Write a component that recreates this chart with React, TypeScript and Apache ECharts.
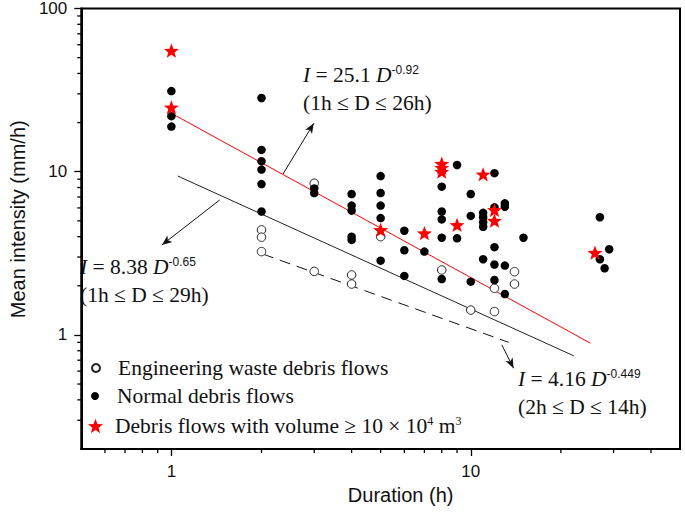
import React, { useEffect, useRef } from 'react';
import * as echarts from 'echarts';

// ---------- data ----------
const engDuration = [2, 2, 2, 3, 3, 4, 4, 5, 8, 10, 12, 12, 14, 14];
const engIntensity = [4.4, 3.97, 3.24, 8.5, 2.45, 2.33, 2.05, 4.0, 2.5, 1.42, 1.93, 1.39, 2.44, 2.05];

const normalDuration = [
  1, 1, 1,
  2, 2, 2, 2, 2, 2,
  3, 3,
  4, 4, 4, 4, 4,
  5, 5, 5, 5, 5,
  6, 6, 6,
  7,
  8, 8, 8, 8, 8,
  9, 9,
  10, 10, 10,
  11, 11, 11, 11, 11,
  12, 12, 12, 12, 12,
  13, 13, 13, 13,
  15,
  27, 27, 28, 29,
];
const normalIntensity = [
  31.2, 21.9, 18.9,
  28.3, 13.6, 11.6, 10.3, 8.4, 5.7,
  7.9, 7.4,
  7.3, 6.2, 5.77, 4.0, 3.82,
  9.4, 7.4, 6.2, 5.2, 2.85,
  4.35, 3.3, 2.3,
  3.24,
  8.1, 5.7, 5.1, 3.94, 2.2,
  11.0, 3.91,
  7.3, 5.36, 2.12,
  5.6, 5.25, 4.9, 4.6, 2.91,
  9.8, 6.05, 3.45, 2.7, 2.17,
  6.4, 6.1, 2.66, 1.78,
  3.94,
  5.26, 2.91, 2.56, 3.35,
];

const largeDuration = [1, 1, 5, 7, 8, 8, 8, 9, 11, 12, 12, 26];
const largeIntensity = [55.2, 24.8, 4.4, 4.2, 11.2, 10.6, 10.0, 4.72, 9.64, 5.83, 5.01, 3.19];

// fitted lines (end points as drawn)
const fitRedD = [1, 25.1];
const fitRedI = [22.8, 0.89];
const fitBlackD = [1.05, 22.1];
const fitBlackI = [9.41, 0.744];
const fitDashD = [2.02, 13.4];
const fitDashI = [3.13, 0.9];

// annotation arrows (start on line -> end near label)
const arrowStartD = [2.36, 1.45, 12.7];
const arrowStartI = [9.68, 6.71, 0.869];
const arrowEndD = [2.99, 0.93, 13.9];
const arrowEndI = [19.8, 3.56, 0.625];

// axes
const X_MIN = 0.5;
const X_MAX = 50;
const Y_MIN = 0.2;
const Y_MAX = 100;
const xMinorTicks = [0.6, 0.7, 0.8, 0.9, 2, 3, 4, 5, 6, 7, 8, 9, 20, 30, 40];
const yMinorTicks = [0.3, 0.4, 0.5, 0.6, 0.7, 0.8, 0.9, 2, 3, 4, 5, 6, 7, 8, 9, 20, 30, 40, 50, 60, 70, 80, 90];

const SER_ENG = 'Engineering waste debris flows';
const SER_NORM = 'Normal debris flows';
const SER_LARGE = 'Debris flows with volume ≥ 10 × 10⁴ m³';

const equations = [
  { coef: '25.1', exp: '-0.92', range: '(1h ≤ D ≤ 26h)' },
  { coef: '8.38', exp: '-0.65', range: '(1h ≤ D ≤ 29h)' },
  { coef: '4.16', exp: '-0.449', range: '(2h ≤ D ≤ 14h)' },
];

// ---------- option ----------
const STAR =
  'path://M50 0 L62.34 33.01 L97.55 34.55 L69.97 56.49 L79.39 90.45 L50 71 L20.61 90.45 L30.03 56.49 L2.45 34.55 L37.66 33.01 Z';
const SANS = "'Liberation Sans', Arial, sans-serif";
const SERIF = "'Liberation Serif', 'Times New Roman', serif";
const TXT = '#111';
const FS = 21.5;

function zip(a: number[], b: number[]) {
  return a.map((v, i) => [v, b[i]]);
}

function buildOption() {
  const textRich = {
    i: { fontFamily: SERIF, fontSize: FS, fontStyle: 'italic', fill: TXT, color: TXT },
    n: { fontFamily: SERIF, fontSize: FS, fill: TXT, color: TXT },
    sup: { fontFamily: SANS, fontSize: 12, verticalAlign: 'top', lineHeight: 12, fill: TXT, color: TXT },
  };
  const eqPos = [
    { x: 303, y: 75 },
    { x: 80, y: 267 },
    { x: 518, y: 379 },
  ];
  const graphic: any[] = [];
  equations.forEach((eq, k) => {
    graphic.push({
      type: 'text',
      x: eqPos[k].x,
      y: eqPos[k].y,
      silent: true,
      style: {
        text: `{i|I}{n| = ${eq.coef} }{i|D}{sup|${eq.exp}}`,
        rich: textRich,
        fontFamily: SERIF,
        fontSize: FS,
        fill: TXT,
        verticalAlign: 'middle',
        align: 'left',
      },
    });
    graphic.push({
      type: 'text',
      x: eqPos[k].x,
      y: eqPos[k].y + 28,
      silent: true,
      style: {
        text: eq.range,
        fontFamily: SERIF,
        fontSize: FS,
        fill: TXT,
        verticalAlign: 'middle',
        align: 'left',
      },
    });
  });

  const arrowData = arrowStartD.map((d, i) => [
    { coord: [d, arrowStartI[i]] },
    { coord: [arrowEndD[i], arrowEndI[i]] },
  ]);

  const legendText = (padLeft: number) => ({
    fontFamily: SERIF,
    fontSize: FS,
    color: TXT,
    lineHeight: 22,
    padding: [0, 0, 0, padLeft],
    rich: {
      sup: { fontFamily: SERIF, fontSize: 12, verticalAlign: 'top', lineHeight: 12, color: TXT },
      n: { fontFamily: SERIF, fontSize: FS, color: TXT, lineHeight: 22 },
    },
  });
  const legendBase = {
    orient: 'vertical',
    padding: 0,
    selectedMode: false,
    symbolKeepAspect: true,
  };

  const tickSeries = (vals: number[], horizontal: boolean) => ({
    type: 'custom',
    silent: true,
    clip: false,
    z: 5,
    data: vals.map((v) => (horizontal ? [v, Y_MIN] : [X_MIN, v])),
    renderItem: (_p: any, api: any) => {
      const pt = api.coord([api.value(0), api.value(1)]);
      return {
        type: 'line',
        shape: horizontal
          ? { x1: pt[0], y1: pt[1], x2: pt[0], y2: pt[1] + 4 }
          : { x1: pt[0], y1: pt[1], x2: pt[0] - 4, y2: pt[1] },
        style: { stroke: '#000', lineWidth: 1.3 },
      };
    },
  });

  return {
    animation: false,
    backgroundColor: '#fff',
    grid: {
      left: 70,
      top: 8,
      right: 5,
      bottom: 64,
      show: true,
      borderColor: '#000',
      borderWidth: 2,
      backgroundColor: 'transparent',
    },
    xAxis: {
      type: 'log',
      logBase: 10,
      min: X_MIN,
      max: X_MAX,
      name: 'Duration (h)',
      nameLocation: 'middle',
      nameGap: 36,
      nameTextStyle: { fontFamily: SANS, fontSize: 20, color: TXT, padding: [0, 0, 0, 40] },
      axisLine: { show: true, lineStyle: { color: '#000', width: 2 } },
      axisTick: { show: true, length: 7, lineStyle: { color: '#000', width: 1.3 } },
      axisLabel: {
        fontFamily: SANS,
        fontSize: 17,
        color: TXT,
        margin: 14,
        showMinLabel: false,
        showMaxLabel: false,
      },
      splitLine: { show: false },
      minorTick: { show: false },
    },
    yAxis: {
      type: 'log',
      logBase: 10,
      min: Y_MIN,
      max: Y_MAX,
      name: 'Mean intensity (mm/h)',
      nameLocation: 'middle',
      nameGap: 48,
      nameTextStyle: { fontFamily: SANS, fontSize: 20, color: TXT, padding: [0, 0, 0, 19] },
      axisLine: { show: true, lineStyle: { color: '#000', width: 2 } },
      axisTick: { show: true, length: 7, lineStyle: { color: '#000', width: 1.3 } },
      axisLabel: {
        fontFamily: SANS,
        fontSize: 17,
        color: TXT,
        margin: 14,
        showMinLabel: false,
        showMaxLabel: true,
      },
      splitLine: { show: false },
    },
    legend: [
      { ...legendBase, data: [SER_ENG], left: 91, top: 357, itemWidth: 8, itemHeight: 8, textStyle: legendText(13) },
      { ...legendBase, data: [SER_NORM], left: 91, top: 385, itemWidth: 8, itemHeight: 8, textStyle: legendText(13) },
      {
        ...legendBase,
        data: [SER_LARGE],
        left: 88,
        top: 415,
        itemWidth: 15,
        itemHeight: 15,
        textStyle: legendText(7),
        formatter: () => '{n|Debris flows with volume ≥ 10 × 10}{sup|4}{n| m}{sup|3}',
      },
    ],
    graphic,
    series: [
      {
        name: 'fit-dashed',
        type: 'line',
        data: zip(fitDashD, fitDashI),
        symbol: 'none',
        silent: true,
        lineStyle: { color: '#111', width: 1, type: [11, 7] },
        z: 1,
      },
      {
        name: 'fit-black',
        type: 'line',
        data: zip(fitBlackD, fitBlackI),
        symbol: 'none',
        silent: true,
        lineStyle: { color: '#222', width: 1 },
        z: 1,
      },
      {
        name: 'fit-red',
        type: 'line',
        data: zip(fitRedD, fitRedI),
        symbol: 'none',
        silent: true,
        lineStyle: { color: '#ff0000', width: 1 },
        z: 1,
        markLine: {
          silent: true,
          symbol: ['none', 'arrow'],
          symbolSize: [6, 10],
          label: { show: false },
          lineStyle: { color: '#111', width: 1, type: 'solid' },
          emphasis: { disabled: true },
          data: arrowData,
        },
      },
      {
        name: SER_ENG,
        type: 'scatter',
        data: zip(engDuration, engIntensity),
        symbol: 'circle',
        symbolSize: 8.5,
        itemStyle: { color: '#fff', borderColor: '#222', borderWidth: 1, opacity: 1 },
        z: 3,
      },
      {
        name: SER_NORM,
        type: 'scatter',
        data: zip(normalDuration, normalIntensity),
        symbol: 'circle',
        symbolSize: 8.5,
        itemStyle: { color: '#000', opacity: 1 },
        z: 4,
      },
      {
        name: SER_LARGE,
        type: 'scatter',
        data: zip(largeDuration, largeIntensity),
        symbol: STAR,
        symbolKeepAspect: true,
        symbolSize: 15,
        itemStyle: { color: '#ff0000', opacity: 1 },
        z: 5,
      },
      tickSeries(xMinorTicks, true),
      tickSeries(yMinorTicks, false),
    ],
  };
}

export default function App() {
  const ref = useRef<HTMLDivElement>(null);
  useEffect(() => {
    if (!ref.current) return;
    const chart = echarts.init(ref.current, null, { renderer: 'svg' });
    chart.setOption(buildOption() as any);
    return () => chart.dispose();
  }, []);
  return (
    <div
      ref={ref}
      style={{ position: 'fixed', left: 0, top: 0, width: 685, height: 513, background: '#fff' }}
    />
  );
}
